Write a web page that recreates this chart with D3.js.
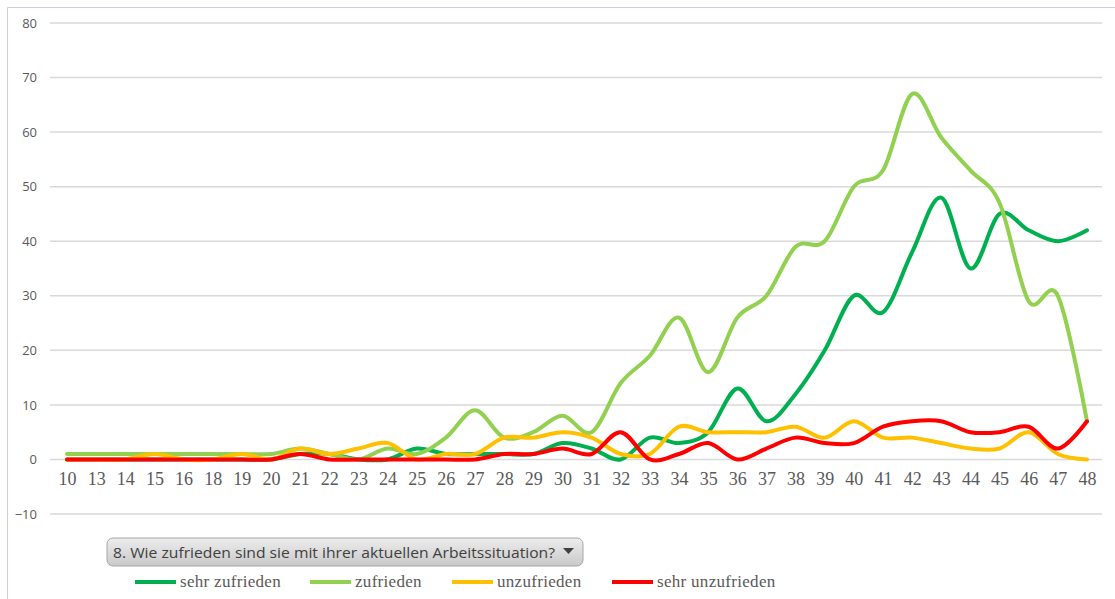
<!DOCTYPE html>
<head>
  <meta charset="utf-8">
  <title>Arbeitssituation</title>
  <style>
    body { margin: 0; background: #ffffff; }
    .yAxis text { font-family: "Open Sans", sans-serif; font-size: 13px; fill: #595959; }
    .xAxis text { font-family: "Liberation Serif", serif; font-size: 18px; fill: #595959; }
    .legend text { font-family: "Liberation Serif", serif; font-size: 17px; letter-spacing: 0.3px; fill: #595959; }
  </style>
</head>
<body>
  <script src="https://cdn.jsdelivr.net/npm/d3@7"></script>
  <script>
    // categories on the x axis (age groups / codes)
    var categories = ["10", "13", "14", "15", "16", "18", "19", "20", "21", "22", "23", "24",
      "25", "26", "27", "28", "29", "30", "31", "32", "33", "34", "35", "36", "37", "38",
      "39", "40", "41", "42", "43", "44", "45", "46", "47", "48"];

    var sehrZufrieden = [0, 0, 0, 0, 0, 0, 0, 0, 1, 1, 0, 0,
      2, 1, 1, 1, 1, 3, 2, 0, 4, 3, 5, 13, 7, 12,
      20, 30, 27, 38, 48, 35, 45, 42, 40, 42];

    var zufrieden = [1, 1, 1, 1, 1, 1, 1, 1, 2, 1, 0, 2,
      1, 4, 9, 4, 5, 8, 5, 14, 19, 26, 16, 26, 30, 39,
      40, 50, 53, 67, 59, 53, 47, 29, 30, 7];

    var unzufrieden = [0, 0, 0, 1, 0, 0, 1, 0, 2, 1, 2, 3,
      0, 1, 1, 4, 4, 5, 4, 1, 1, 6, 5, 5, 5, 6,
      4, 7, 4, 4, 3, 2, 2, 5, 1, 0];

    var sehrUnzufrieden = [0, 0, 0, 0, 0, 0, 0, 0, 1, 0, 0, 0,
      0, 0, 0, 1, 1, 2, 1, 5, 0, 1, 3, 0, 2, 4,
      3, 3, 6, 7, 7, 5, 5, 6, 2, 7];

    var seriesNames = ["sehr zufrieden", "zufrieden", "unzufrieden", "sehr unzufrieden"];
    var seriesColors = ["#00B050", "#92D050", "#FFC000", "#FF0000"];
    var yTicks = [-10, 0, 10, 20, 30, 40, 50, 60, 70, 80];
    var filterLabel = "8. Wie zufrieden sind sie mit ihrer aktuellen Arbeitssituation?";

    var series = [sehrZufrieden, zufrieden, unzufrieden, sehrUnzufrieden];

    var width = 1115, height = 599;

    var svg = d3.select("body").append("svg")
      .attr("width", width)
      .attr("height", height);

    // chart frame (only top and left edges visible)
    svg.append("path")
      .attr("d", "M7.5," + height + " L7.5,7.5 L" + width + ",7.5")
      .attr("fill", "none")
      .attr("stroke", "#C8D0E0")
      .attr("stroke-width", 1);

    var x = d3.scalePoint()
      .domain(categories)
      .range([67, 1087]);

    var y = d3.scaleLinear()
      .domain([-10, 80])
      .range([514, 23]);

    // gridlines
    svg.append("g")
      .selectAll("line")
      .data(yTicks)
      .enter().append("line")
      .attr("x1", 50)
      .attr("x2", 1102)
      .attr("y1", function (d) { return y(d); })
      .attr("y2", function (d) { return y(d); })
      .attr("stroke", "#D9D9D9")
      .attr("stroke-width", 1.5);

    // y axis labels
    var yAxis = d3.axisLeft(y).tickValues(yTicks).tickSize(0).tickPadding(0);
    svg.append("g")
      .attr("class", "yAxis")
      .attr("transform", "translate(37,0)")
      .call(yAxis)
      .call(function (g) { g.select(".domain").remove(); });

    // x axis labels
    var xAxis = d3.axisBottom(x).tickSize(0).tickPadding(0);
    svg.append("g")
      .attr("class", "xAxis")
      .attr("transform", "translate(0,472)")
      .call(xAxis)
      .call(function (g) { g.select(".domain").remove(); });

    // smoothed lines
    var line = d3.line()
      .x(function (d, i) { return x(categories[i]); })
      .y(function (d) { return y(d); })
      .curve(d3.curveCatmullRom.alpha(0));

    svg.append("g")
      .selectAll("path")
      .data(series)
      .enter().append("path")
      .attr("d", line)
      .attr("fill", "none")
      .attr("stroke", function (d, i) { return seriesColors[i]; })
      .attr("stroke-width", 4)
      .attr("stroke-linejoin", "round")
      .attr("stroke-linecap", "round");

    // filter button
    var grad = svg.append("defs").append("linearGradient")
      .attr("id", "btnGrad")
      .attr("x1", 0).attr("y1", 0).attr("x2", 0).attr("y2", 1);
    grad.append("stop").attr("offset", "0%").attr("stop-color", "#EDEDED");
    grad.append("stop").attr("offset", "100%").attr("stop-color", "#C9C9C9");

    var btn = svg.append("g").attr("transform", "translate(107,538)");
    btn.append("rect")
      .attr("width", 476)
      .attr("height", 28)
      .attr("rx", 6)
      .attr("fill", "url(#btnGrad)")
      .attr("stroke", "#A6A6A6");
    btn.append("text")
      .attr("x", 6)
      .attr("y", 19.5)
      .attr("textLength", 442)
      .attr("lengthAdjust", "spacingAndGlyphs")
      .style("font-family", "'Open Sans', sans-serif")
      .style("font-size", "15px")
      .style("fill", "#404040")
      .text(filterLabel);
    btn.append("path")
      .attr("d", "M456,10 L467,10 L461.5,16 Z")
      .attr("fill", "#404040");

    // legend
    var legendX = [135, 310, 452, 612];
    var legend = svg.append("g").attr("class", "legend");
    var items = legend.selectAll("g")
      .data(seriesNames)
      .enter().append("g")
      .attr("transform", function (d, i) { return "translate(" + legendX[i] + ",582)"; });
    items.append("line")
      .attr("x1", 0).attr("x2", 41)
      .attr("y1", 0).attr("y2", 0)
      .attr("stroke", function (d, i) { return seriesColors[i]; })
      .attr("stroke-width", 4);
    items.append("text")
      .attr("x", 45)
      .attr("y", 5)
      .text(function (d) { return d; });
  </script>
</body>
